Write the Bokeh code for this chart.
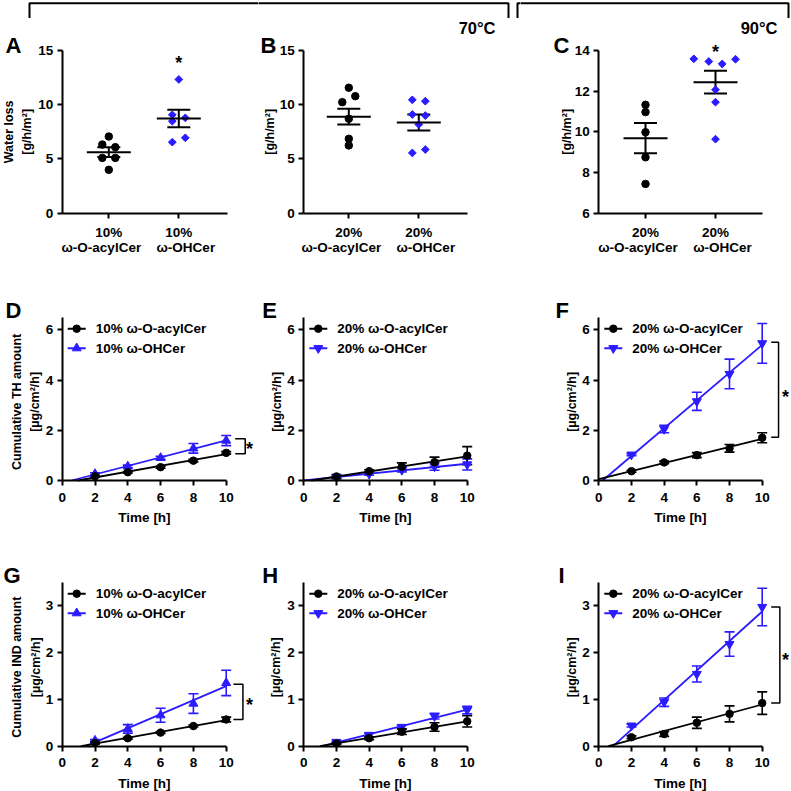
import numpy as np
from bokeh.plotting import figure
from bokeh.layouts import column, row
from bokeh.models import Range1d, FixedTicker, LinearAxis, Whisker, TeeHead, ColumnDataSource
from bokeh.core.properties import value
from bokeh.embed import file_html
from bokeh.resources import INLINE

FONT = "Liberation Sans"
BLUE = "#2b1bff"
BLACK = "#000000"

# ---------------- data ----------------
pct_10 = "10%"
pct_20 = "20%"
group_names = ["ω-O-acylCer", "ω-OHCer"]

# A: water loss, 10 %, 70 °C
A_acyl = [7.07, 6.33, 6.09, 5.10, 5.10, 4.00]
A_oh = [12.33, 9.07, 8.79, 8.48, 6.95, 6.55]
A_mean = [5.63, 8.73]
A_sem = [0.46, 0.80]
# B: water loss, 20 %, 70 °C
B_acyl = [11.57, 10.79, 10.24, 8.71, 6.86, 6.25]
B_oh = [10.45, 10.33, 9.10, 9.00, 8.18, 5.56, 5.87]
B_mean = [8.90, 8.36]
B_sem = [0.72, 0.74]
# C: water loss, 20 %, 90 °C
C_acyl = [11.33, 10.97, 9.98, 8.75, 7.44]
C_oh = [13.59, 13.46, 13.34, 13.57, 12.07, 11.46, 9.64]
C_mean = [9.69, 12.44]
C_sem = [0.74, 0.56]

time_h = [2, 4, 6, 8, 10]
# D: cumulative TH, 10 %, 70 °C
D_acyl = [0.17, 0.33, 0.53, 0.79, 1.10]
D_acyl_err = [0.03, 0.03, 0.04, 0.05, 0.05]
D_oh = [0.26, 0.56, 0.90, 1.28, 1.59]
D_oh_err = [0.05, 0.05, 0.06, 0.19, 0.20]
# E: cumulative TH, 20 %, 70 °C
E_acyl = [0.16, 0.37, 0.55, 0.73, 0.99]
E_acyl_err = [0.08, 0.06, 0.15, 0.20, 0.36]
E_oh = [0.13, 0.26, 0.42, 0.56, 0.64]
E_oh_err = [0.06, 0.05, 0.08, 0.15, 0.22]
# F: cumulative TH, 20 %, 90 °C
F_acyl = [0.37, 0.72, 1.01, 1.28, 1.70]
F_acyl_err = [0.04, 0.05, 0.10, 0.15, 0.20]
F_oh = [1.03, 2.05, 3.15, 4.24, 5.46]
F_oh_err = [0.04, 0.15, 0.36, 0.59, 0.79]
# G: cumulative IND, 10 %, 70 °C
G_acyl = [0.07, 0.17, 0.29, 0.43, 0.57]
G_acyl_err = [0.02, 0.02, 0.02, 0.02, 0.05]
G_oh = [0.12, 0.37, 0.66, 0.91, 1.35]
G_oh_err = [0.02, 0.09, 0.15, 0.21, 0.27]
# H: cumulative IND, 20 %, 70 °C
H_acyl = [0.06, 0.17, 0.31, 0.41, 0.53]
H_acyl_err = [0.02, 0.03, 0.06, 0.09, 0.12]
H_oh = [0.09, 0.24, 0.41, 0.64, 0.77]
H_oh_err = [0.02, 0.04, 0.04, 0.06, 0.08]
# I: cumulative IND, 20 %, 90 °C
I_acyl = [0.19, 0.26, 0.50, 0.69, 0.92]
I_acyl_err = [0.03, 0.05, 0.12, 0.17, 0.24]
I_oh = [0.44, 0.94, 1.54, 2.18, 2.97]
I_oh_err = [0.03, 0.09, 0.17, 0.26, 0.40]

# ---------------- layout (pixels) ----------------
W1, W2, W3 = 258, 262, 271
HR1, HR2, HR3 = 270, 260, 261
COLS = [  # y-axis px, x=10 px, category px pair, axis end px (local to figure)
    dict(ax=61.7, t10=225.7, cats=(108.3, 178.3), end=227.0),
    dict(ax=45.3, t10=208.7, cats=(90.3, 160.3), end=208.7),
    dict(ax=78.3, t10=241.7, cats=(125.0, 195.0), end=241.7),
]
SUB_OFF = (-7.5, 7.0)  # horizontal shift of the 2nd tick-label line (px)
STAR_YOFF = 3

# jitter of the individual dots (pixels)
A_jit = ([0, -6.5, 6.5, -6.5, 6.5, 0], [0, -6.5, 6.5, -6.5, 6.5, -6.5])
B_jit = ([0, 6.5, -6.5, 0, 0, 0], [-6.5, 6.5, -6.5, 6.5, 0, -6.5, 6.5])
C_jit = ([0, 0, 0, 0, 0], [-21.7, -6.7, 6.7, 20, 0, 0, 0])


def make_fig(W, H, xmap, ymap):
    xv0, xp0, xv1, xp1 = xmap
    sx = (xp1 - xp0) / (xv1 - xv0)
    yv0, yp0, yv1, yp1 = ymap
    sy = (yp0 - yp1) / (yv1 - yv0)
    p = figure(width=W, height=H,
               x_range=Range1d(xv0 - xp0 / sx, xv0 + (W - xp0) / sx),
               y_range=Range1d(yv0 - (H - yp0) / sy, yv0 + yp0 / sy),
               output_backend="svg", toolbar_location=None,
               x_axis_type=None, y_axis_type=None,
               min_border=0, min_border_left=0, min_border_right=0,
               min_border_top=0, min_border_bottom=0)
    p.outline_line_color = None
    p.background_fill_color = "white"
    p.border_fill_color = "white"
    p.extra_x_ranges = {"px": Range1d(0, W)}
    p.extra_y_ranges = {"px": Range1d(H, 0)}
    return p, sx, sy


def txt(p, x, y, s, size, align="left", baseline="alphabetic", angle=0.0,
        color=BLACK, xr="px", yr="px", yoff=0):
    kw = {}
    if xr:
        kw["x_range_name"] = xr
    if yr:
        kw["y_range_name"] = yr
    p.text(x=[x], y=[y], text=[s], text_font=value(FONT), text_font_style="bold",
           text_font_size=size, text_align=align, text_baseline=baseline,
           angle=angle, text_color=color, y_offset=yoff, **kw)


def pxline(p, xs, ys):
    p.line(xs, ys, line_color=BLACK, line_width=2, x_range_name="px",
           y_range_name="px")


def style_axis(ax, standoff):
    ax.axis_line_width = 2
    ax.axis_line_color = BLACK
    ax.major_tick_line_width = 2
    ax.major_tick_line_color = BLACK
    ax.major_tick_in = 0
    ax.major_tick_out = 5
    ax.minor_tick_line_color = None
    ax.major_label_text_font = FONT
    ax.major_label_text_font_style = "bold"
    ax.major_label_text_font_size = "13.5px"
    ax.major_label_text_color = BLACK
    ax.major_label_standoff = standoff
    ax.axis_label_text_font = FONT
    ax.axis_label_text_font_style = "bold"
    ax.axis_label_text_font_size = "13.5px"
    ax.axis_label_text_color = BLACK
    ax.axis_label_standoff = 5


def add_axes(p, x_fixed, x_bounds, x_ticks, y_fixed, y_bounds, y_ticks,
             xlabel=None, overrides=None):
    xa = LinearAxis(fixed_location=x_fixed, bounds=x_bounds,
                    ticker=FixedTicker(ticks=x_ticks))
    if xlabel:
        xa.axis_label = xlabel
    if overrides:
        xa.major_label_overrides = overrides
    ya = LinearAxis(fixed_location=y_fixed, bounds=y_bounds,
                    ticker=FixedTicker(ticks=y_ticks))
    style_axis(xa, 7)
    style_axis(ya, 4)
    p.add_layout(xa, "below")
    p.add_layout(ya, "left")


def dot_panel(col, W, H, ymap, yticks, pct, acyl, oh, jit, means, sems,
              letter, letter_x, letter_y, ytitles, star_y=None):
    c = COLS[col]
    p, sx, sy = make_fig(W, H, (1, c["cats"][0], 2, c["cats"][1]), ymap)
    x_start = 1 + (c["ax"] - c["cats"][0]) / sx
    x_end = 1 + (c["end"] - c["cats"][0]) / sx
    y0, y1 = ymap[0], ymap[2]
    add_axes(p, y0, (x_start, x_end), [1, 2], x_start, (y0, y1), yticks,
             overrides={1: pct, 2: pct})
    # second line of the category labels
    for k, name in enumerate(group_names):
        txt(p, 1 + k + SUB_OFF[k] / sx, ymap[1] + 34.5, name, "13.5px",
            align="center", baseline="middle", xr=None)
    p.scatter([1 + j / sx for j in jit[0]], acyl, marker="circle", size=7.5,
              color=BLACK)
    p.scatter([2 + j / sx for j in jit[1]], oh, marker="square", angle=np.pi / 4,
              size=5.5, color=BLUE)
    src = ColumnDataSource(dict(x=[1, 2], m=means,
                                lo=[m - s for m, s in zip(means, sems)],
                                hi=[m + s for m, s in zip(means, sems)]))
    p.scatter("x", "m", source=src, marker="dash", size=44, line_width=2,
              line_color=BLACK)
    p.add_layout(Whisker(source=src, base="x", upper="hi", lower="lo",
                         line_width=2, line_color=BLACK,
                         upper_head=TeeHead(size=23, line_width=2, line_color=BLACK),
                         lower_head=TeeHead(size=23, line_width=2, line_color=BLACK)))
    if star_y is not None:
        txt(p, 2, star_y, "*", "18px", align="center", xr=None, yr=None,
            yoff=STAR_YOFF)
    txt(p, letter_x, letter_y, letter, "22px")
    ymid = (ymap[1] + ymap[3]) / 2
    for (xx, s) in ytitles:
        txt(p, xx, ymid, s, "12.5px", align="center", baseline="middle",
            angle=np.pi / 2)
    return p


def ts_panel(col, W, H, ymap, yticks, acyl, acyl_err, oh, oh_err, oh_marker,
             pct, letter, letter_x, letter_y, ytitles, bracket=None, star=None):
    c = COLS[col]
    p, sx, sy = make_fig(W, H, (0, c["ax"], 10, c["t10"]), ymap)
    ytop = ymap[2]
    add_axes(p, 0, (0, 10), [0, 2, 4, 6, 8, 10], 0, (0, ytop), yticks,
             xlabel="Time [h]")
    for y, e, colr, mk, sz in ((oh, oh_err, BLUE, oh_marker, 9),
                               (acyl, acyl_err, BLACK, "circle", 7.5)):
        y = np.asarray(y, dtype=float)
        e = np.asarray(e, dtype=float)
        slope, icpt = np.polyfit(time_h, y, 1)
        xs0 = max(0.0, -icpt / slope)
        p.line([xs0, 10], [slope * xs0 + icpt, slope * 10 + icpt],
               line_color=colr, line_width=1.8)
        src = ColumnDataSource(dict(x=time_h, y=y, lo=y - e, hi=y + e))
        p.add_layout(Whisker(source=src, base="x", upper="hi", lower="lo",
                             line_width=1.6, line_color=colr,
                             upper_head=TeeHead(size=10, line_width=1.6, line_color=colr),
                             lower_head=TeeHead(size=10, line_width=1.6, line_color=colr)))
        p.scatter("x", "y", source=src, marker=mk, size=sz, color=colr)
    if bracket is not None:
        bx0, bx1, btop, bbot = bracket
        p.line([bx0, bx1, bx1, bx0], [btop, btop, bbot, bbot], line_color=BLACK,
               line_width=1.5)
    if star is not None:
        txt(p, star[0], star[1], "*", "18px", align="center", xr=None, yr=None,
            yoff=STAR_YOFF)
    # legend
    ax = c["ax"]
    top = ymap[3]
    entries = [(pct + " " + group_names[0], BLACK, "circle", 7.5),
               (pct + " " + group_names[1], BLUE, oh_marker, 9)]
    for i, (lab, colr, mk, sz) in enumerate(entries):
        yy = top + 11.5 + 19.5 * i
        p.line([ax + 5.5, ax + 23.5], [yy, yy], line_color=colr, line_width=2,
               x_range_name="px", y_range_name="px")
        p.scatter([ax + 14.5], [yy], marker=mk, size=sz, color=colr,
                  x_range_name="px", y_range_name="px")
        txt(p, ax + 33.5, yy, lab, "13.5px", baseline="middle")
    txt(p, letter_x, letter_y, letter, "22px")
    ymid = (ymap[1] + ymap[3]) / 2 + 3
    for (xx, s) in ytitles:
        txt(p, xx, ymid, s, "12.5px", align="center", baseline="middle",
            angle=np.pi / 2)
    return p


# ---------------- row 1 ----------------
Y1A = (0, 212.7, 15, 50)
Y1C = (6, 212.7, 14, 50)
pA = dot_panel(0, W1, HR1, Y1A, [0, 5, 10, 15], pct_10, A_acyl, A_oh, A_jit,
               A_mean, A_sem, "A", 5, 45, [(8, "Water loss"), (26.5, "[g/h/m²]")],
               star_y=14.1)
pB = dot_panel(1, W2, HR1, Y1A, [0, 5, 10, 15], pct_20, B_acyl, B_oh, B_jit,
               B_mean, B_sem, "B", 2, 45, [(11, "[g/h/m²]")])
pC = dot_panel(2, W3, HR1, Y1C, [6, 8, 10, 12, 14], pct_20, C_acyl, C_oh, C_jit,
               C_mean, C_sem, "C", 33, 45, [(46.5, "[g/h/m²]")], star_y=14.08)

# temperature brackets across the top of row 1
pxline(pA, [29, 29, W1 + 2], [17.5, 2.7, 2.7])
pxline(pB, [-2, 250, 250], [2.7, 2.7, 17.5])
pxline(pB, [259, 259, W2 + 2], [17.5, 2.7, 2.7])
pxline(pC, [-2, 268, 268], [2.7, 2.7, 17.5])
txt(pB, 237, 27, "70°C", "16.5px", align="right")
txt(pC, 257, 27, "90°C", "16.5px", align="right")

# ---------------- row 2 ----------------
Y2 = (0, 210, 6.5, 46.7)
pD = ts_panel(0, W1, HR2, Y2, [0, 2, 4, 6], D_acyl, D_acyl_err, D_oh, D_oh_err,
              "triangle", pct_10, "D", 5, 40,
              [(16, "Cumulative TH amount"), (34, "[µg/cm²/h]")],
              bracket=(10.55, 11.16, 1.66, 1.06), star=(11.42, 1.39))
pE = ts_panel(1, W2, HR2, Y2, [0, 2, 4, 6], E_acyl, E_acyl_err, E_oh, E_oh_err,
              "inverted_triangle", pct_20, "E", 3.7, 40, [(18, "[µg/cm²/h]")])
pF = ts_panel(2, W3, HR2, Y2, [0, 2, 4, 6], F_acyl, F_acyl_err, F_oh, F_oh_err,
              "inverted_triangle", pct_20, "F", 35, 40, [(51.7, "[µg/cm²/h]")],
              bracket=(10.55, 11.0, 5.5, 1.72), star=(11.43, 3.45))

# ---------------- row 3 ----------------
Y3 = (0, 215.7, 3.5, 51.7)
pG = ts_panel(0, W1, HR3, Y3, [0, 1, 2, 3], G_acyl, G_acyl_err, G_oh, G_oh_err,
              "triangle", pct_10, "G", 3, 45,
              [(16, "Cumulative IND amount"), (35, "[µg/cm²/h]")],
              bracket=(10.44, 11.02, 1.32, 0.57), star=(11.42, 0.95))
pH = ts_panel(1, W2, HR3, Y3, [0, 1, 2, 3], H_acyl, H_acyl_err, H_oh, H_oh_err,
              "inverted_triangle", pct_20, "H", 3.7, 45, [(17, "[µg/cm²/h]")])
pI = ts_panel(2, W3, HR3, Y3, [0, 1, 2, 3], I_acyl, I_acyl_err, I_oh, I_oh_err,
              "inverted_triangle", pct_20, "I", 38, 45, [(51, "[µg/cm²/h]")],
              bracket=(10.55, 11.08, 2.97, 0.92), star=(11.43, 1.9))

layout = column(row(pA, pB, pC), row(pD, pE, pF), row(pG, pH, pI))

with open("out.html", "w") as f:
    f.write(file_html(layout, INLINE))
